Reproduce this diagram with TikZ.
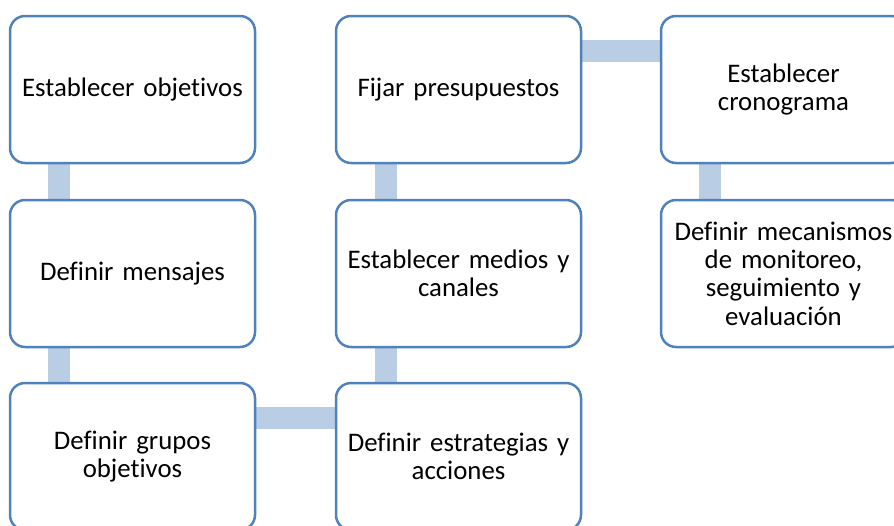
\documentclass[tikz,border=0pt]{standalone}
\usepackage{fontspec}
\setmainfont{Carlito}[Ligatures=NoCommon, WordSpace=0.8]
\definecolor{boxblue}{RGB}{79, 129, 189}
\definecolor{barblue}{RGB}{185, 205, 229}
\usetikzlibrary{calc, backgrounds}
\tikzset{
  stepbox/.style={draw=boxblue, fill=white, line width=1.25pt, rounded corners=7.5pt,
    minimum width=122.5pt, minimum height=73.5pt, text width=120pt, align=center,
    inner sep=0pt, font=\fontsize{13.4}{14.2}\selectfont},
  bar/.style={draw=barblue, line width=11pt}
}

\begin{document}
\begin{tikzpicture}[x=0.5pt, y=-0.5pt]
  \useasboundingbox (0,0) rectangle (894,525);
  \clip (0,0) rectangle (894,525);

  % first column
  \node[stepbox] (objetivos) at (132.5, 89.5) {Establecer objetivos};
  \node[stepbox] (mensajes) at (132.5, 273.5) {Definir mensajes};
  \node[stepbox] (grupos) at (132.5, 456.5) {Definir grupos\\objetivos};

  % second column
  \node[stepbox] (presupuestos) at (458.5, 89.5) {Fijar presupuestos};
  \node[stepbox] (medios) at (458.5, 273.5) {Establecer medios y\\canales};
  \node[stepbox] (estrategias) at (458.5, 456.5) {Definir estrategias y\\acciones};

  % third column
  \node[stepbox] (cronograma) at (783.5, 89.5) {Establecer\\cronograma};
  \node[stepbox] (monitoreo) at (783.5, 273.5) {Definir mecanismos\\de monitoreo,\\seguimiento y\\evaluaci\'on};

  % connecting bars
  \begin{scope}[on background layer]
    \draw[bar] ($(objetivos.south west)+(50,0)$) -- ($(mensajes.north west)+(50,0)$);
    \draw[bar] ($(mensajes.south west)+(50,0)$) -- ($(grupos.north west)+(50,0)$);
    \draw[bar] ($(grupos.north east)+(0,36)$) -- ($(estrategias.north west)+(0,36)$);
    \draw[bar] ($(estrategias.north west)+(51,0)$) -- ($(medios.south west)+(51,0)$);
    \draw[bar] ($(medios.north west)+(51,0)$) -- ($(presupuestos.south west)+(51,0)$);
    \draw[bar] ($(presupuestos.north east)+(0,36)$) -- ($(cronograma.north west)+(0,36)$);
    \draw[bar] ($(cronograma.south west)+(50,0)$) -- ($(monitoreo.north west)+(50,0)$);
  \end{scope}
\end{tikzpicture}
\end{document}
